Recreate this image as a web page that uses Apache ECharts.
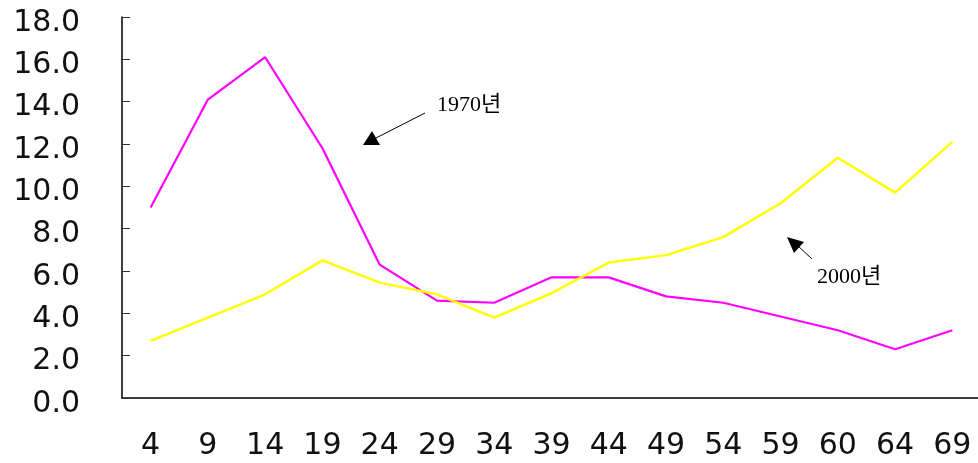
<!DOCTYPE html>
<html>
<head>
<meta charset="utf-8">
<script src="https://cdn.jsdelivr.net/npm/echarts@6/dist/echarts.min.js"></script>
<style>
  html, body { margin: 0; padding: 0; background: #fff; }
  #chart { width: 978px; height: 463px; }
</style>
</head>
<body>
<div id="chart"></div>
<script>
// Age groups along the x axis
const categories = ['4', '9', '14', '19', '24', '29', '34', '39', '44', '49', '54', '59', '60', '64', '69'];

// Share (%) per age group
const values1970 = [9.0, 14.1, 16.1, 11.8, 6.3, 4.6, 4.5, 5.7, 5.7, 4.8, 4.5, 3.85, 3.2, 2.3, 3.2];
const values2000 = [2.7, 3.8, 4.9, 6.5, 5.45, 4.9, 3.8, 4.95, 6.4, 6.75, 7.6, 9.2, 11.35, 9.7, 12.1];

// Y axis range
const yMin = 0;
const yMax = 18;
const yStep = 2;

const chart = echarts.init(document.getElementById('chart'), null, { renderer: 'canvas' });

const axisFont = { fontFamily: 'DejaVu Sans', fontSize: 30, color: '#111' };
const noteFont = '22px "Liberation Serif", "Noto Sans CJK KR", serif';

chart.setOption({
  animation: false,
  backgroundColor: '#fff',
  grid: { left: 122, top: 17, width: 859, height: 381, containLabel: false, outerBoundsMode: 'none' },
  xAxis: {
    type: 'category',
    data: categories,
    boundaryGap: true,
    axisLine: { lineStyle: { color: '#000', width: 1.5 } },
    axisTick: { inside: true, length: 8, lineStyle: { color: '#333', width: 1 } },
    axisLabel: Object.assign({ margin: 33, interval: 0 }, axisFont),
    splitLine: { show: false }
  },
  yAxis: {
    type: 'value',
    min: yMin,
    max: yMax,
    interval: yStep,
    axisLine: { show: true, lineStyle: { color: '#000', width: 1.5 } },
    axisTick: { show: true, inside: true, length: 8, lineStyle: { color: '#333', width: 1 } },
    axisLabel: {
      margin: 42,
      formatter: v => '{v|' + v.toFixed(1) + '}',
      rich: { v: Object.assign({ padding: [12, 0, 0, 0] }, axisFont) }
    },
    splitLine: { show: false }
  },
  series: [
    {
      name: '1970년',
      type: 'line',
      data: values1970,
      symbol: 'none',
      lineStyle: { color: '#ff00ff', width: 2.2 }
    },
    {
      name: '2000년',
      type: 'line',
      data: values2000,
      symbol: 'none',
      lineStyle: { color: '#ffff00', width: 2.5 }
    }
  ],
  graphic: [
    // 1970 callout
    { type: 'line', shape: { x1: 425, y1: 113, x2: 374, y2: 139 }, style: { stroke: '#000', lineWidth: 1 } },
    { type: 'polygon', shape: { points: [[363, 145], [380, 145], [372, 131]] }, style: { fill: '#000' } },
    { type: 'text', left: 437, top: 94, style: { text: '1970년', font: noteFont, fill: '#000' } },
    // 2000 callout
    { type: 'line', shape: { x1: 812, y1: 259, x2: 797, y2: 245 }, style: { stroke: '#000', lineWidth: 1 } },
    { type: 'polygon', shape: { points: [[787, 237], [804, 242], [794, 253]] }, style: { fill: '#000' } },
    { type: 'text', left: 817, top: 266, style: { text: '2000년', font: noteFont, fill: '#000' } }
  ]
});
</script>
</body>
</html>
